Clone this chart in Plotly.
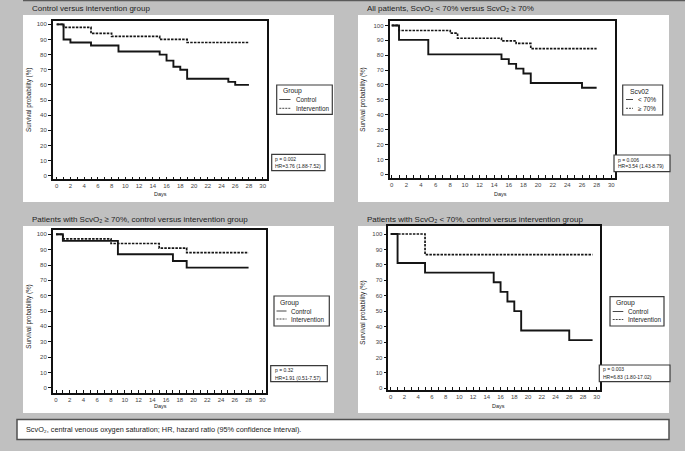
import plotly.graph_objects as go

W, H = 685, 451

# ---------------- data ----------------
days_ticks = list(range(0, 31, 2))
surv_ticks = list(range(0, 101, 10))

p1_control_days = [0, 1, 2, 5, 9, 15, 16, 17, 18, 19, 25, 26, 28]
p1_control_surv = [100, 90, 88, 86, 82, 80, 76, 72, 70, 64, 62, 60, 60]
p1_interv_days = [0, 1, 5, 8, 15, 19, 28]
p1_interv_surv = [100, 98, 94, 92, 90, 88, 88]

p2_low_days = [0, 1, 5, 15, 16, 17, 18, 19, 26, 28]
p2_low_surv = [100, 90.3, 80.6, 77.4, 74.2, 71.0, 67.7, 61.3, 58.1, 58.1]
p2_high_days = [0, 1, 8, 9, 15, 17, 19, 28]
p2_high_surv = [100, 96.6, 94.8, 91.4, 89.7, 87.9, 84.5, 84.5]

p3_control_days = [0, 1, 9, 17, 19, 28]
p3_control_surv = [100, 95.7, 87.0, 82.6, 78.3, 78.3]
p3_interv_days = [0, 1, 8, 15, 19, 28]
p3_interv_surv = [100, 97, 94, 91, 88, 88]

p4_control_days = [0, 1, 5, 15, 16, 17, 18, 19, 26, 29.4]
p4_control_surv = [100, 81.25, 75, 68.75, 62.5, 56.25, 50, 37.5, 31.25, 31.25]
p4_interv_days = [0, 5, 29.4]
p4_interv_surv = [100, 86.7, 86.7]

titles = [
    "Control versus intervention group",
    "All patients, ScvO₂ &lt; 70% versus ScvO₂ ≥ 70%",
    "Patients with ScvO₂ ≥ 70%, control versus intervention group",
    "Patients with ScvO₂ &lt; 70%, control versus intervention group",
]
legend_titles = ["Group", "Scv02", "Group", "Group"]
series_names = [
    ("Control", "Intervention"),
    ("&lt; 70%", "≥ 70%"),
    ("Control", "Intervention"),
    ("Control", "Intervention"),
]
p_texts = ["p = 0.002", "p = 0.006", "p = 0.32", "p = 0.003"]
hr_texts = ["HR=3.76 (1.88-7.52)", "HR=3.54 (1.43-8.79)",
            "HR=1.91 (0.51-7.57)", "HR=6.83 (1.80-17.02)"]
footnote = ("ScvO₂, central venous oxygen saturation; HR, hazard ratio "
            "(95% confidence interval).")

series = [
    ((p1_control_days, p1_control_surv), (p1_interv_days, p1_interv_surv)),
    ((p2_low_days, p2_low_surv), (p2_high_days, p2_high_surv)),
    ((p3_control_days, p3_control_surv), (p3_interv_days, p3_interv_surv)),
    ((p4_control_days, p4_control_surv), (p4_interv_days, p4_interv_surv)),
]

# ---------------- layout geometry (pixels) ----------------
panels = [
    dict(white=(23, 15, 334, 202), box=(52.7, 20.7, 267, 179.3),
         xr=(-0.58, 30.63), yr=(-2.4, 102.4),
         title=(30, 9), xt=(160, 194), yt=(29, 100),
         leg=(276.7, 85, 332.3, 114.3), legx=(279.3, 290.5, 294), legy=(91, 99.5, 108.3),
         pbox=(271.7, 154.3, 325, 170.7), ptx=273, pty=(159, 165.8)),
    dict(white=(358, 15, 669, 202), box=(389.5, 20.7, 615.3, 177.7),
         xr=(-0.3, 30.55), yr=(-2.3, 103.2),
         title=(365, 9), xt=(500, 194), yt=(362.7, 100),
         leg=(622.7, 85, 662.7, 115), legx=(626, 633, 636), legy=(91, 99.5, 108.3),
         pbox=(614, 155, 670, 171.7), ptx=616, pty=(159.5, 166.3)),
    dict(white=(23, 226, 334, 413), box=(52.7, 230, 265.7, 392.7),
         xr=(-0.48, 30.49), yr=(-3.2, 102.8),
         title=(30, 219), xt=(160, 406), yt=(29, 316.7),
         leg=(274, 296, 329.3, 326), legx=(276.5, 286.5, 289), legy=(303, 311, 319),
         pbox=(270.7, 365.7, 327.3, 381.7), ptx=272.5, pty=(369.8, 377.6)),
    dict(white=(358, 226, 669, 413), box=(388.3, 226, 600, 390),
         xr=(-0.35, 30.48), yr=(-1.1, 105.2),
         title=(365, 219), xt=(499, 406), yt=(362.7, 313),
         leg=(610, 296.7, 664, 326), legx=(612.7, 623.3, 626), legy=(303.3, 311.5, 319.5),
         pbox=(599.3, 365, 670, 381.7), ptx=601, pty=(369.3, 377.3)),
]

def px(x):
    return x / W

def py(y):
    return 1 - y / H

FONT = "Liberation Sans, Arial, sans-serif"
TXT = "#222222"

fig = go.Figure()
shapes = []
annotations = []
layout_axes = {}

# top dark border line
shapes.append(dict(type="line", xref="paper", yref="paper", x0=px(23), x1=1,
                   y0=py(0.6), y1=py(0.6), line=dict(color="#5a5a5a", width=1.5), layer="below"))

for i, (pnl, ser) in enumerate(zip(panels, series)):
    n = i + 1
    xa = "x" if n == 1 else f"x{n}"
    ya = "y" if n == 1 else f"y{n}"
    wx0, wy0, wx1, wy1 = pnl["white"]
    shapes.append(dict(type="rect", xref="paper", yref="paper", x0=px(wx0), x1=px(wx1),
                       y0=py(wy1), y1=py(wy0), fillcolor="white", line=dict(width=0),
                       layer="below"))
    bx0, by0, bx1, by1 = pnl["box"]
    layout_axes[f"xaxis{'' if n == 1 else n}"] = dict(
        domain=[px(bx0), px(bx1)], range=list(pnl["xr"]), anchor=ya,
        tickvals=days_ticks, ticks="inside", ticklen=3, tickwidth=1, tickcolor="#111",
        minor=dict(dtick=1, tick0=0, ticks="inside", ticklen=3, tickwidth=1,
                   tickcolor="#111", showgrid=False),
        showline=True, mirror=True, linecolor="#111", linewidth=1.5,
        showgrid=False, zeroline=False, tickfont=dict(family=FONT, size=6, color="#444"),
        fixedrange=True)
    layout_axes[f"yaxis{'' if n == 1 else n}"] = dict(
        domain=[py(by1), py(by0)], range=list(pnl["yr"]), anchor=xa,
        tickvals=surv_ticks, ticks="outside", ticklen=3, tickwidth=1, tickcolor="#111",
        showline=True, mirror=True, linecolor="#111", linewidth=1.5,
        showgrid=False, zeroline=False, tickfont=dict(family=FONT, size=6, color="#444"),
        fixedrange=True)

    (d1, s1), (d2, s2) = ser
    name1, name2 = series_names[i]
    fig.add_trace(go.Scatter(x=d1, y=s1, mode="lines", line_shape="hv", name=name1,
                             line=dict(color="#151515", width=1.9), xaxis=xa, yaxis=ya,
                             showlegend=False))
    fig.add_trace(go.Scatter(x=d2, y=s2, mode="lines", line_shape="hv", name=name2,
                             line=dict(color="#151515", width=1.7, dash="2.5px,1.2px"),
                             xaxis=xa, yaxis=ya, showlegend=False))

    tx, ty = pnl["title"]
    annotations.append(dict(text=titles[i], x=px(tx), y=py(ty), xref="paper", yref="paper",
                            xanchor="left", yanchor="middle", showarrow=False,
                            font=dict(family=FONT, size=8, color=TXT)))
    ax_, ay_ = pnl["xt"]
    annotations.append(dict(text="Days", x=px(ax_), y=py(ay_), xref="paper", yref="paper",
                            xanchor="center", yanchor="middle", showarrow=False,
                            font=dict(family=FONT, size=5.5, color=TXT)))
    yx_, yy_ = pnl["yt"]
    annotations.append(dict(text="Survival probability (%)", x=px(yx_), y=py(yy_),
                            xref="paper", yref="paper", textangle=-90,
                            xanchor="center", yanchor="middle", showarrow=False,
                            font=dict(family=FONT, size=6.3, color=TXT)))
    lx0, ly0, lx1, ly1 = pnl["leg"]
    shapes.append(dict(type="rect", xref="paper", yref="paper", x0=px(lx0), x1=px(lx1),
                       y0=py(ly1), y1=py(ly0), fillcolor="white",
                       line=dict(color="#3a3a3a", width=1.2)))
    sx0, sx1, tx0 = pnl["legx"]
    gy, e1y, e2y = pnl["legy"]
    annotations.append(dict(text=legend_titles[i], x=px(sx0 + 1.5), y=py(gy), xref="paper",
                            yref="paper", xanchor="left", yanchor="middle", showarrow=False,
                            font=dict(family=FONT, size=6.8, color=TXT)))
    shapes.append(dict(type="line", xref="paper", yref="paper", x0=px(sx0), x1=px(sx1),
                       y0=py(e1y), y1=py(e1y), line=dict(color="#333", width=0.9)))
    shapes.append(dict(type="line", xref="paper", yref="paper", x0=px(sx0), x1=px(sx1),
                       y0=py(e2y), y1=py(e2y), line=dict(color="#333", width=0.9, dash="2px,1px")))
    annotations.append(dict(text=name1, x=px(tx0), y=py(e1y), xref="paper", yref="paper",
                            xanchor="left", yanchor="middle", showarrow=False,
                            font=dict(family=FONT, size=6.3, color=TXT)))
    annotations.append(dict(text=name2, x=px(tx0), y=py(e2y), xref="paper", yref="paper",
                            xanchor="left", yanchor="middle", showarrow=False,
                            font=dict(family=FONT, size=6.3, color=TXT)))
    qx0, qy0, qx1, qy1 = pnl["pbox"]
    shapes.append(dict(type="rect", xref="paper", yref="paper", x0=px(qx0), x1=px(qx1),
                       y0=py(qy1), y1=py(qy0), fillcolor="white",
                       line=dict(color="#3a3a3a", width=1.2)))
    for txt, yy in zip((p_texts[i], hr_texts[i]), pnl["pty"]):
        annotations.append(dict(text=txt, x=px(pnl["ptx"]), y=py(yy), xref="paper",
                                yref="paper", xanchor="left", yanchor="middle",
                                showarrow=False, font=dict(family=FONT, size=5, color=TXT)))

shapes.append(dict(type="rect", xref="paper", yref="paper", x0=px(17), x1=px(669),
                   y0=py(439.5), y1=py(419.5), fillcolor="white",
                   line=dict(color="#505050", width=1.5)))
annotations.append(dict(text=footnote, x=px(24), y=py(429.5), xref="paper", yref="paper",
                        xanchor="left", yanchor="middle", showarrow=False,
                        font=dict(family=FONT, size=7.3, color=TXT)))

fig.update_layout(
    width=W, height=H, margin=dict(l=0, r=0, t=0, b=0),
    paper_bgcolor="#c0c0c0", plot_bgcolor="white",
    showlegend=False, shapes=shapes, annotations=annotations,
    **layout_axes,
)

fig.write_html("out.html", config={"displayModeBar": False},
               post_script="document.body.style.margin='0';document.body.style.padding='0';")
